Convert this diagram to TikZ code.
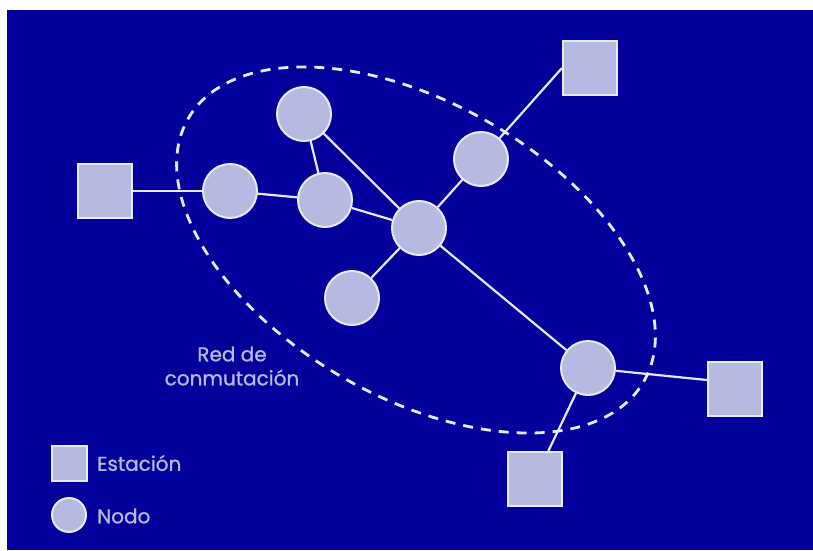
\documentclass[tikz,border=0pt]{standalone}
\usepackage{fontspec}
\setmainfont{Poppins}
\newfontfamily\rotfont{Poppins}[FakeBold=0.9]
\definecolor{fondo}{RGB}{3,0,155}
\definecolor{relleno}{RGB}{182,186,224}
\definecolor{borde}{RGB}{232,234,252}
\begin{document}
\begin{tikzpicture}[x=1pt,y=1pt,
  estacion/.style={draw=borde,fill=relleno,line width=2pt,minimum size=#1,inner sep=0pt},
  nodo/.style={circle,draw=borde,fill=relleno,line width=2pt,minimum size=#1,inner sep=0pt},
  enlace/.style={draw=borde,line width=2.2pt},
  rotulo/.style={text=relleno,font=\rotfont\fontsize{20}{24}\selectfont,inner sep=0pt}]
\useasboundingbox (0,0) rectangle (813,550);
\fill[fondo] (7,0) rectangle (813,540);
% red de conmutacion
\draw[borde,line width=2.8pt,dash pattern=on 10pt off 8pt,rotate around={-30:(416,300)}]
  (416,300) ellipse [x radius=263, y radius=147];
% nodos
\node[nodo=54pt] (n1) at (304,436) {};
\node[nodo=54pt] (n2) at (230,359) {};
\node[nodo=54pt] (n3) at (325,350) {};
\node[nodo=54pt] (n4) at (419,322) {};
\node[nodo=54pt] (n5) at (352,252) {};
\node[nodo=54pt] (n6) at (481,391) {};
\node[nodo=54pt] (n7) at (588,182) {};
% estaciones
\node[estacion=54pt] (s1) at (590,482) {};
\node[estacion=54pt] (s2) at (105,359) {};
\node[estacion=54pt] (s3) at (735,161) {};
\node[estacion=54pt] (s4) at (535,71) {};
% enlaces
\draw[enlace] (s2) -- (n2);
\draw[enlace] (n2) -- (n3);
\draw[enlace] (n1) -- (n3);
\draw[enlace] (n1) -- (n4);
\draw[enlace] (n3) -- (n4);
\draw[enlace] (n4) -- (n5);
\draw[enlace] (n4) -- (n6);
\draw[enlace] (n6) -- (s1.west);
\draw[enlace] (n4) -- (n7);
\draw[enlace] (n7) -- ([yshift=9pt]s3.west);
\draw[enlace] (n7) -- (s4);
\node[rotulo,align=center] (red) at (232,184) {Red de\\conmutación};
% leyenda
\node[estacion=35pt] (lest) at (69,87) {};
\node[nodo=34pt] (lnod) at (69,35) {};
\node[rotulo,anchor=west] (test) at (97,87) {Estación};
\node[rotulo,anchor=west] (tnod) at (97,34) {Nodo};
\end{tikzpicture}
\end{document}
